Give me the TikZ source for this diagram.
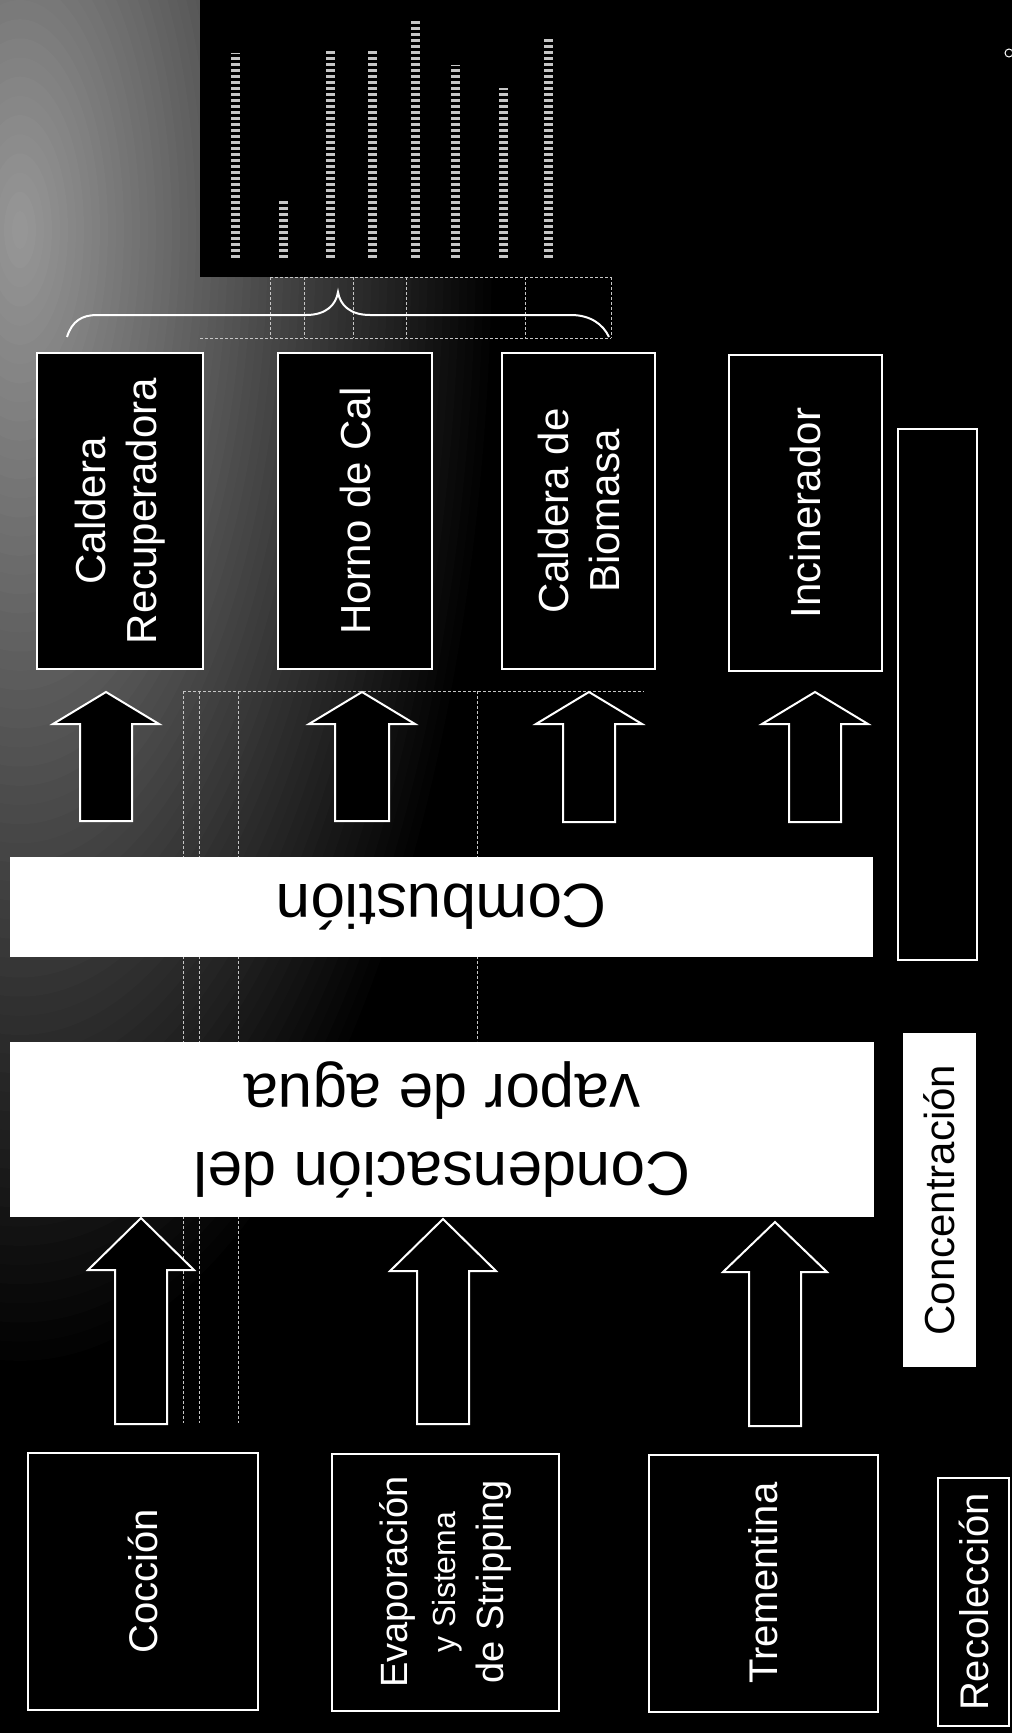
\documentclass[tikz,border=0pt]{standalone}
\usepackage{fontspec}
\setmainfont{Liberation Sans}
\usetikzlibrary{calc}
\tikzset{
  unitbox/.style={draw=white, line width=2pt, fill=black, text=white, align=center,
                  inner sep=0pt, rotate=90},
  boilerbox/.style={unitbox, minimum width=316, font=\fontsize{42}{51}\selectfont},
  sourcebox/.style={unitbox, minimum width=257, font=\fontsize{40}{48}\selectfont},
  stagebar/.style={fill=white, text=black, align=center, inner sep=0pt, rotate=180,
                   font=\fontsize{62}{78}\selectfont},
  sidelabel/.style={fill=white, text=black, inner sep=0pt, rotate=90,
                    font=\fontsize{42}{50}\selectfont},
  hollowarrow/.style={draw=white, line width=2pt, fill=black, line join=miter},
  scanline/.style={draw=gray!45, line width=0.8pt, dash pattern=on 3pt off 2pt},
  textline/.style={draw=gray!45, line width=9pt, dash pattern=on 3pt off 3pt}
}
% x, tip y, head base y, tail y, head half width, shaft half width
\newcommand{\blockarrow}[6]{%
  \draw[hollowarrow] (#1,#2) -- (#1+#5,#3) -- (#1+#6,#3) -- (#1+#6,#4)
    -- (#1-#6,#4) -- (#1-#6,#3) -- (#1-#5,#3) -- cycle;}

\begin{document}
\begin{tikzpicture}[x=1pt, y=-1pt]
  \useasboundingbox (0,0) rectangle (1012,1733);
  \fill[black] (0,0) rectangle (1012,1733);

  % scanner glow in the upper left
  \begin{scope}
    \clip (0,0) rectangle (1012,1733);
    \foreach \k in {0,...,59}{
      \pgfmathsetmacro\rr{1-\k/60}
      \pgfmathtruncatemacro\g{\k}
      \fill[white!\g!black] (20,230) ellipse [x radius=480*\rr, y radius=1150*\rr];
    }
  \end{scope}

  % faint grid left by the scan
  \draw[scanline] (183,691) -- (183,1423);
  \draw[scanline] (199,691) -- (199,1423);
  \draw[scanline] (238,691) -- (238,1423);
  \draw[scanline] (477,691) -- (477,1041);
  \draw[scanline] (183,691) -- (644,691);
  \draw[scanline] (200,338) -- (611,338);
  \foreach \x in {270,304,353,406,525,611}
    \draw[scanline] (\x,277) -- (\x,338);

  % notes block
  \node[fill=black, minimum width=812, minimum height=277, inner sep=0pt] (notes) at (606,138.5) {};
  \draw[scanline] (270,277) -- (611,277);
  \foreach \x/\top in {235/53, 283/200, 330/50, 372/50, 415/20, 455/65, 503/88, 548/37}
    \draw[textline] (\x,258) -- (\x,\top);
  \draw[white, line width=1pt] (1009,53) circle (4);

  % brace
  \draw[white, line width=2pt] (67,337) .. controls (72,321) and (82,315) .. (97,315)
    -- (306,315) .. controls (326,315) and (336,305) .. (338,292)
    .. controls (340,305) and (350,315) .. (370,315)
    -- (571,315) .. controls (590,315) and (603,324) .. (609,337);

  % combustion units
  \node[boilerbox, minimum height=166] (recup) at (120,511) {Caldera\\Recuperadora};
  \node[boilerbox, minimum height=154] (horno) at (355,511) {Horno de Cal};
  \node[boilerbox, minimum height=153] (biomasa) at (578.5,511) {Caldera de\\Biomasa};
  \node[boilerbox, minimum height=153] (incin) at (805.5,513) {Incinerador};
  \node[draw=white, line width=2pt, minimum width=79, minimum height=531, inner sep=0pt] (sidebox) at (937.5,694.5) {};

  \blockarrow{106}{692}{724}{821}{53}{26}
  \blockarrow{362}{692}{724}{821}{53}{27}
  \blockarrow{589}{692}{724}{822}{53}{26}
  \blockarrow{815}{692}{724}{822}{53}{26}

  % stages
  \node[stagebar, minimum width=863, minimum height=100] (comb) at (441.5,907) {Combustión};
  \node[stagebar, minimum width=864, minimum height=175] (cond) at (442,1129.5) {Condensación del\\vapor de agua};
  \node[sidelabel, minimum width=334, minimum height=73] (conc) at (939.5,1200) {Concentración};

  \blockarrow{141}{1218}{1270}{1424}{53}{26}
  \blockarrow{443}{1219}{1271}{1424}{53}{26}
  \blockarrow{775}{1222}{1272}{1426}{52}{26}

  % sources
  \node[sourcebox, minimum height=230] (coccion) at (143,1581.5) {Cocción};
  \node[sourcebox, minimum height=227, font=\fontsize{38}{48}\selectfont] (evap) at (445.5,1582)
    {Evaporación\\{\fontsize{32}{48}\selectfont y Sistema}\\de Stripping};
  \node[sourcebox, minimum height=229] (trement) at (763.5,1583) {Trementina};
  \node[sourcebox, minimum width=248, minimum height=71] (recol) at (973.5,1602) {Recolección};
\end{tikzpicture}
\end{document}
